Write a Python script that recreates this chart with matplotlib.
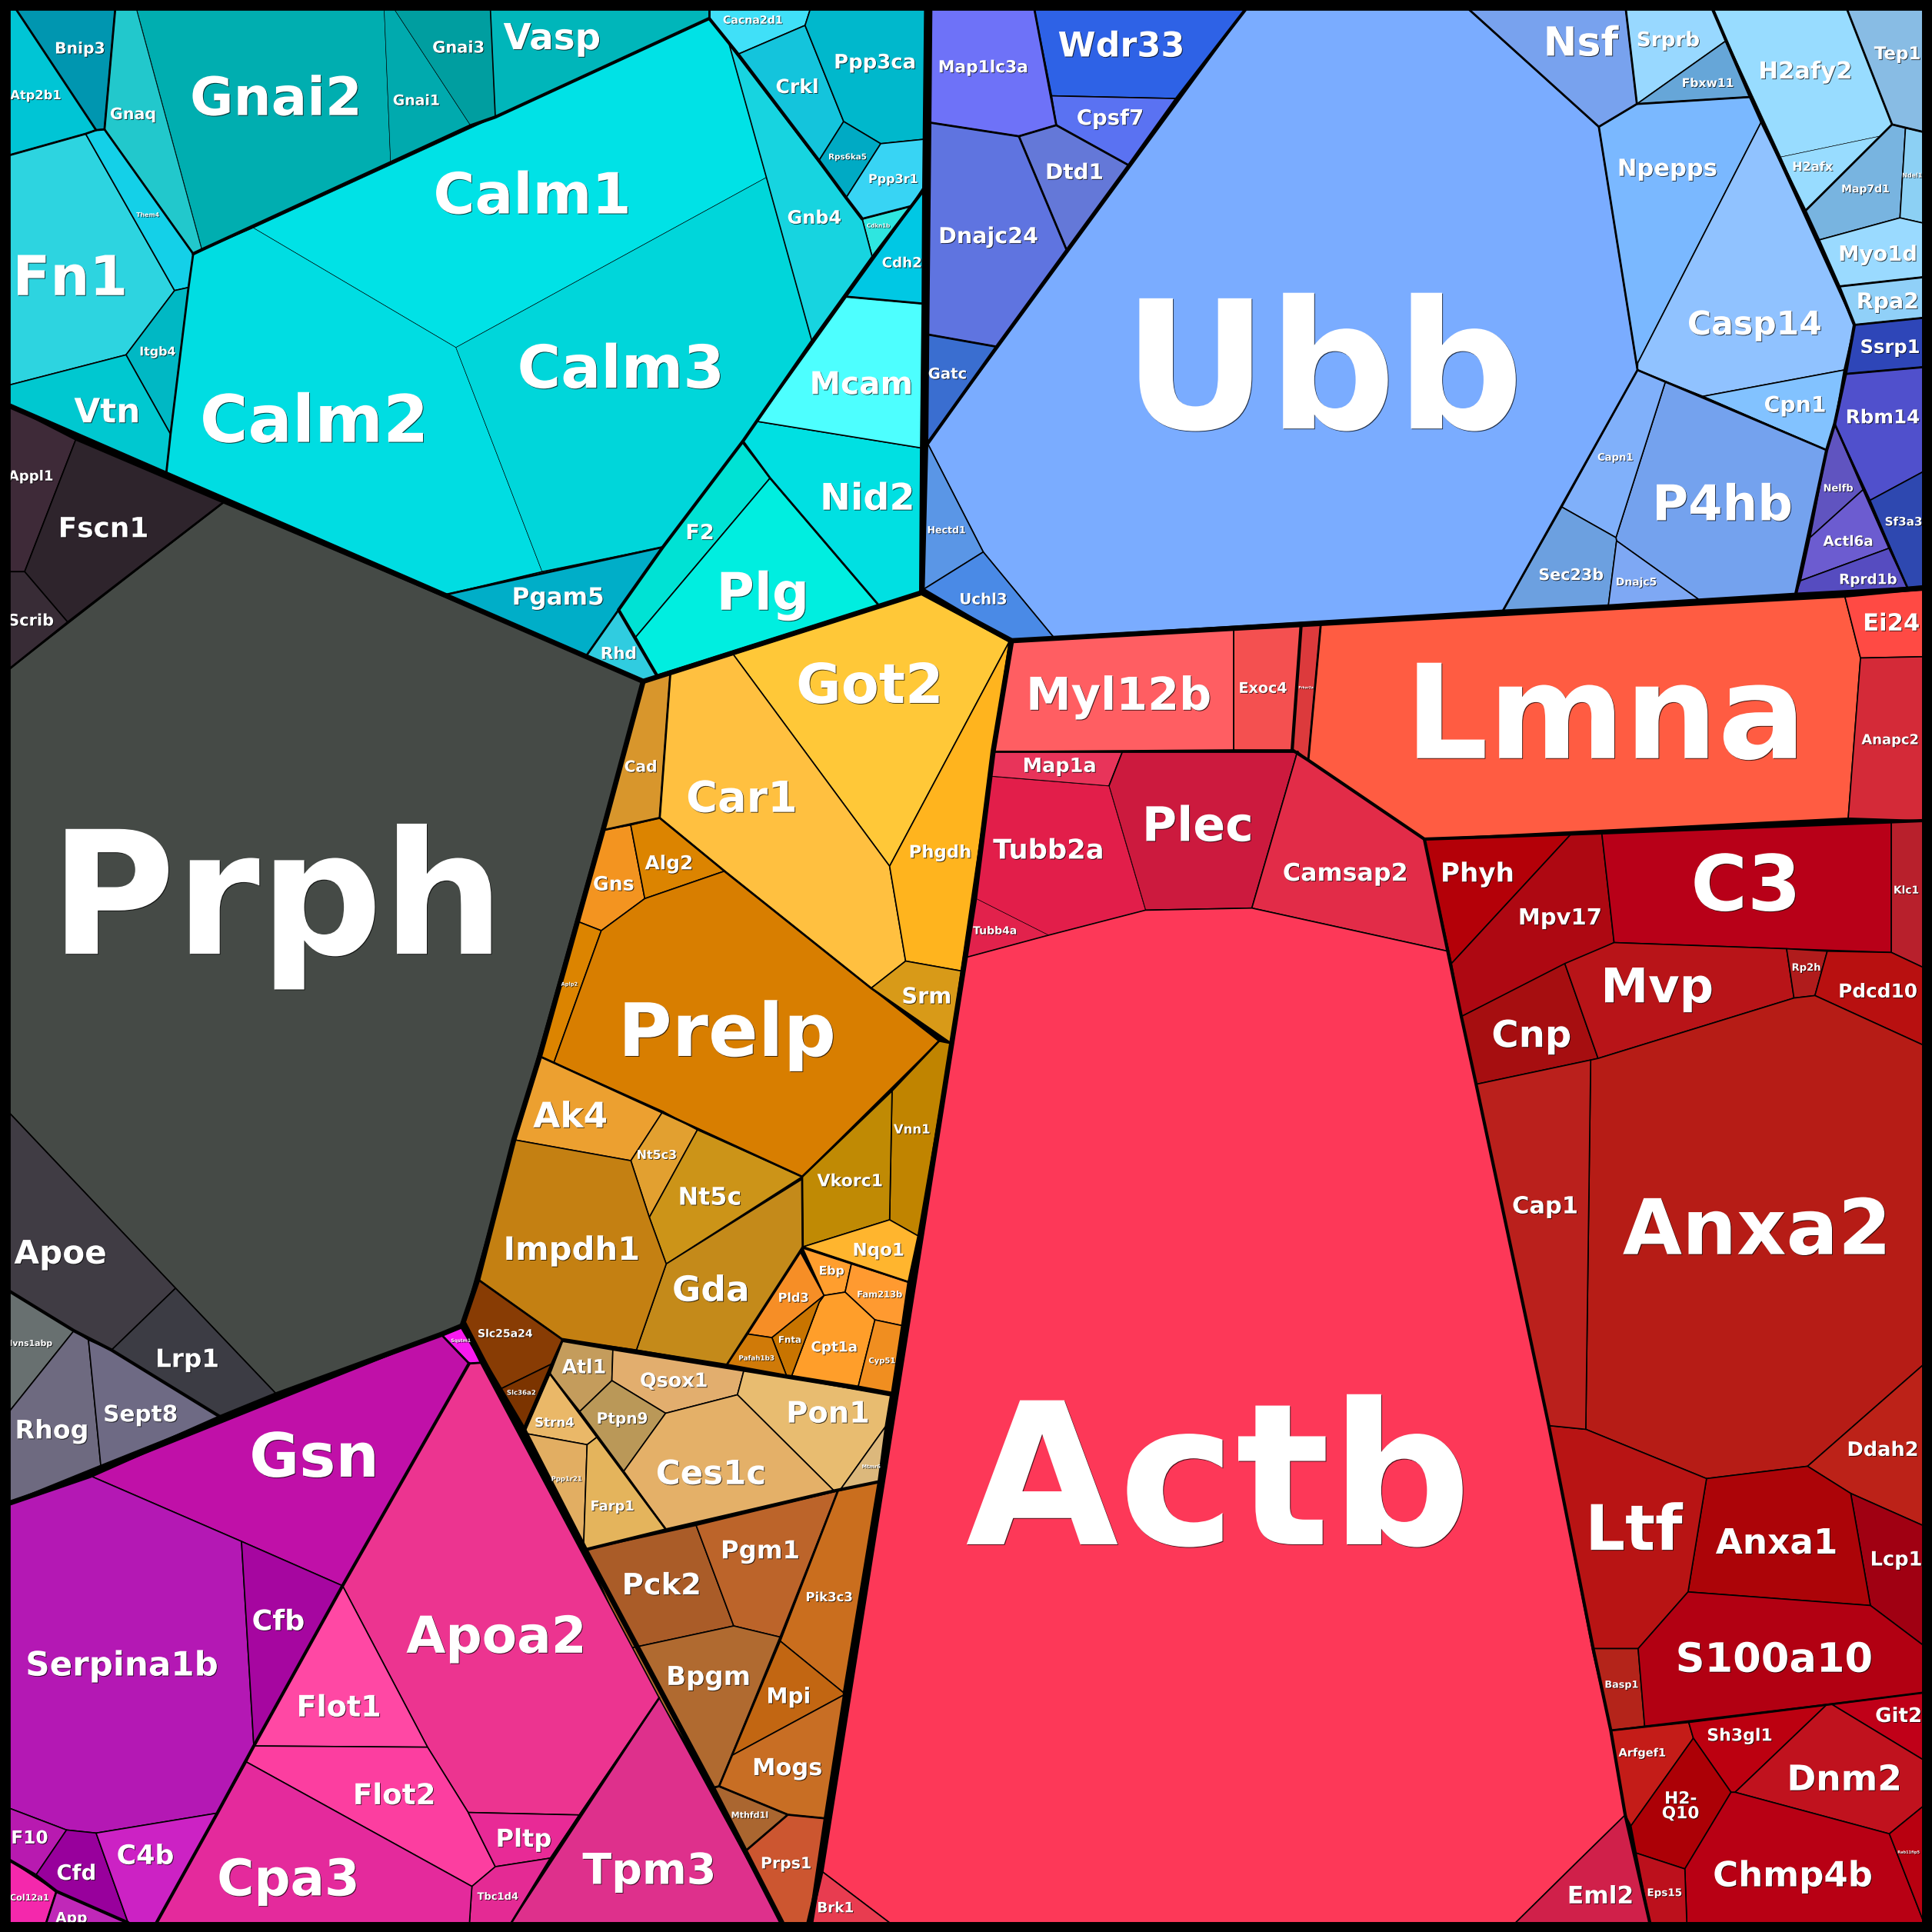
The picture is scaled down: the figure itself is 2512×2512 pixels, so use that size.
import matplotlib
matplotlib.use('Agg')
from matplotlib import pyplot as plt
from matplotlib.patches import Polygon
from matplotlib.font_manager import FontProperties
from matplotlib.textpath import TextPath
import matplotlib.patheffects as pe

# gene groups
dark_genes = ['Appl1', 'Fscn1', 'Scrib', 'Prph', 'Apoe', 'Lrp1', 'Ivns1abp', 'Rhog', 'Sept8']
cyan_genes = ['Bnip3', 'Atp2b1', 'Gnaq', 'Gnai2', 'Gnai1', 'Gnai3', 'Vasp', 'Fn1', 'Them4', 'Itgb4', 'Vtn',
              'Calm1', 'Calm2', 'Calm3', 'Pgam5', 'Rhd', 'F2', 'Plg', 'Nid2', 'Mcam', 'Cdh2', 'Cdkn1b',
              'Gnb4', 'Cacna2d1', 'Crkl', 'Ppp3ca', 'Rps6ka5', 'Ppp3r1']
blue_genes = ['Map1lc3a', 'Wdr33', 'Cpsf7', 'Dtd1', 'Dnajc24', 'Gatc', 'Ubb', 'Hectd1', 'Uchl3', 'Nsf', 'Srprb',
              'Fbxw11', 'Npepps', 'Casp14', 'Cpn1', 'P4hb', 'Capn1', 'Sec23b', 'Dnajc5', 'H2afy2', 'H2afx',
              'Tep1', 'Map7d1', 'Ndel1', 'Myo1d', 'Rpa2', 'Ssrp1', 'Rbm14', 'Sf3a3', 'Nelfb', 'Actl6a', 'Rprd1b']
red_genes = ['Myl12b', 'Exoc4', 'Prkar2a', 'Lmna', 'Ei24', 'Anapc2', 'Map1a', 'Plec', 'Camsap2', 'Tubb2a', 'Tubb4a',
             'Actb', 'Brk1', 'Eml2', 'Phyh', 'Mpv17', 'C3', 'Klc1', 'Cnp', 'Mvp', 'Rp2h', 'Pdcd10', 'Anxa2', 'Ddah2',
             'Lcp1', 'Anxa1', 'Ltf', 'Cap1', 'Basp1', 'S100a10', 'Git2', 'Arfgef1', 'Sh3gl1', 'H2-Q10', 'Dnm2',
             'Chmp4b', 'Rab11fip5', 'Eps15']
orange_genes = ['Got2', 'Cad', 'Car1', 'Phgdh', 'Srm', 'Gns', 'Alg2', 'Aplp2', 'Prelp', 'Vnn1', 'Vkorc1', 'Nqo1',
                'Ak4', 'Nt5c3', 'Nt5c', 'Gda', 'Impdh1', 'Slc25a24', 'Slc36a2', 'Atl1', 'Qsox1', 'Ptpn9', 'Pon1',
                'Mtmr6', 'Ces1c', 'Strn4', 'Ppp1r21', 'Farp1', 'Pld3', 'Ebp', 'Fam213b', 'Cpt1a', 'Fnta', 'Pafah1b3',
                'Cyp51', 'Pck2', 'Pgm1', 'Pik3c3', 'Bpgm', 'Mpi', 'Mogs', 'Mthfd1l', 'Prps1']
magenta_genes = ['Sqstm1', 'Gsn', 'Serpina1b', 'Cfb', 'F10', 'Cfd', 'C4b', 'Col12a1', 'App', 'Apoa2', 'Flot1', 'Flot2',
                 'Pltp', 'Tbc1d4', 'Cpa3', 'Tpm3']
all_genes = dark_genes + cyan_genes + blue_genes + red_genes + orange_genes + magenta_genes

# cell colours
colours = {
    'Appl1': '#3e2a38', 'Fscn1': '#2e242c', 'Scrib': '#382c36', 'Prph': '#454a46', 'Apoe': '#403c44', 'Lrp1': '#3c3c44',
    'Ivns1abp': '#687070', 'Rhog': '#6e6a80', 'Sept8': '#6e6a84',
    'Bnip3': '#0096b0', 'Atp2b1': '#00c5d5', 'Gnaq': '#22c8cc', 'Gnai2': '#00aeb0', 'Gnai1': '#00aaae', 'Gnai3': '#009ea0',
    'Vasp': '#00b6ba', 'Cacna2d1': '#40e0f8', 'Crkl': '#14c4dc', 'Ppp3ca': '#00b8cc', 'Rps6ka5': '#00aac4',
    'Ppp3r1': '#38d4f4', 'Gnb4': '#17d4e0', 'Cdkn1b': '#2ee6e0', 'Cdh2': '#00c8e4', 'Them4': '#14d0e8', 'Fn1': '#2dd4e0',
    'Itgb4': '#00b8c4', 'Vtn': '#00c8d0', 'Calm1': '#00e2e6', 'Calm2': '#00dde2', 'Calm3': '#00d6da', 'Mcam': '#4dffff',
    'Nid2': '#00e0e2', 'F2': '#00e2d4', 'Plg': '#00eee0', 'Pgam5': '#00aec8', 'Rhd': '#30cce0',
    'Map1lc3a': '#6e72f8', 'Wdr33': '#2e62e6', 'Cpsf7': '#5a72f2', 'Dtd1': '#6478d8', 'Dnajc24': '#5f74e0', 'Gatc': '#3a6ed0',
    'Ubb': '#7aacff', 'Hectd1': '#5a96e6', 'Uchl3': '#4a8ae6', 'Nsf': '#78a2ee', 'Srprb': '#98d8ff', 'Fbxw11': '#66a6d8',
    'Npepps': '#7ab8ff', 'Casp14': '#90c2ff', 'Cpn1': '#82c2ff', 'Capn1': '#80b0fa', 'P4hb': '#74a2ee', 'Sec23b': '#6ca0e0',
    'Dnajc5': '#7ea8f4', 'H2afy2': '#98dcff', 'H2afx': '#98dcff', 'Tep1': '#88bce4', 'Map7d1': '#78b4e0', 'Ndel1': '#8cd0f4',
    'Myo1d': '#9adaff', 'Rpa2': '#90d0f8', 'Ssrp1': '#2e46b8', 'Rbm14': '#5050cc', 'Sf3a3': '#2e48b0', 'Nelfb': '#6054c0',
    'Actl6a': '#6c5cd0', 'Rprd1b': '#564cc0',
    'Myl12b': '#ff5e62', 'Exoc4': '#f45050', 'Prkar2a': '#dc3a3c', 'Lmna': '#ff5c42', 'Ei24': '#ff4a44', 'Anapc2': '#d42a38',
    'Map1a': '#e8345a', 'Plec': '#cc1a3e', 'Tubb2a': '#e21e4a', 'Tubb4a': '#e2224c', 'Camsap2': '#e22c48', 'Actb': '#fd3858',
    'Phyh': '#b40008', 'Mpv17': '#ae0812', 'C3': '#b80018', 'Klc1': '#b8202c', 'Cnp': '#a60e10', 'Mvp': '#b81418',
    'Rp2h': '#b01c1c', 'Pdcd10': '#b81010', 'Anxa2': '#b61c16', 'Cap1': '#ba201c', 'Ddah2': '#bc2218', 'Ltf': '#b81414',
    'Anxa1': '#ac0408', 'Lcp1': '#a00012', 'S100a10': '#b20012', 'Basp1': '#b4241a', 'Git2': '#c00018', 'Arfgef1': '#c41c18',
    'Sh3gl1': '#bc0010', 'H2-Q10': '#ac0006', 'Dnm2': '#c0121e', 'Chmp4b': '#b80014', 'Eps15': '#bc101c',
    'Rab11fip5': '#b80010', 'Eml2': '#d0204a', 'Brk1': '#e83c50',
    'Got2': '#ffc838', 'Cad': '#d8962c', 'Car1': '#ffc040', 'Phgdh': '#ffb41e', 'Gns': '#f39420', 'Alg2': '#dc8400',
    'Aplp2': '#dc8400', 'Prelp': '#d87e00', 'Srm': '#d89a18', 'Vnn1': '#c08400', 'Vkorc1': '#c08a04', 'Nqo1': '#ffb52e',
    'Ak4': '#eca030', 'Nt5c3': '#e2a030', 'Nt5c': '#cc9418', 'Impdh1': '#c48012', 'Gda': '#c48a1a', 'Ebp': '#ff9e2e',
    'Fam213b': '#ff9a30', 'Pld3': '#f68e26', 'Fnta': '#c87400', 'Cpt1a': '#ff9e2a', 'Cyp51': '#f08e20', 'Pafah1b3': '#d07a08',
    'Slc25a24': '#883c04', 'Slc36a2': '#7c3400', 'Sqstm1': '#f81af0', 'Atl1': '#c49c5c', 'Qsox1': '#e2ae6e', 'Ptpn9': '#ba9858',
    'Pon1': '#e8bc70', 'Mtmr6': '#dcb87c', 'Ces1c': '#e4b068', 'Strn4': '#eab868', 'Ppp1r21': '#e2ae62', 'Farp1': '#e4b45c',
    'Pck2': '#aa5c28', 'Pgm1': '#bc642a', 'Pik3c3': '#ca6e1e', 'Bpgm': '#b06a30', 'Mpi': '#c26612', 'Mogs': '#c86e24',
    'Mthfd1l': '#aa6630', 'Prps1': '#cc5630',
    'Gsn': '#c010a8', 'Serpina1b': '#b418b4', 'Cfb': '#a606a0', 'Flot1': '#ff48a4', 'Apoa2': '#ec3490', 'Flot2': '#fc3ea0',
    'Pltp': '#e82a96', 'Cpa3': '#e42a9c', 'Tpm3': '#de308c', 'Tbc1d4': '#e42a94', 'F10': '#b81ab0', 'Cfd': '#98009c',
    'C4b': '#cc22c4', 'Col12a1': '#f428ac', 'App': '#c028b8',
}

# cell outlines (a voronoi treemap has no layout in matplotlib)
L, R = 7.5, 1560.5
outlines = {
    'Bnip3': [(13, L), (93.5, L), (84.8, 105), (78, 105.6)],
    'Atp2b1': [(L, L), (13, L), (78, 105.6), (69.5, 108.6), (L, 126)],
    'Gnaq': [(93.5, L), (111, L), (164, 202.6), (156.8, 206), (84.8, 105)],
    'Gnai2': [(111, L), (311.8, L), (317, 132), (164, 202.6)],
    'Gnai1': [(311.8, L), (320, L), (382, 102), (317, 132)],
    'Gnai3': [(320, L), (398, L), (402, 95), (382, 102)],
    'Vasp': [(398, L), (575.6, L), (575.6, 15), (402, 95)],
    'Fn1': [(L, 126), (69.5, 108.6), (141.7, 235.8), (102.3, 288), (L, 312.5)],
    'Them4': [(69.5, 108.6), (78, 105.6), (84.8, 105), (156.8, 206), (153, 233.3), (141.7, 235.8)],
    'Itgb4': [(141.7, 235.8), (153, 233.3), (138.4, 352.4), (102.3, 288)],
    'Vtn': [(L, 312.5), (102.3, 288), (138.4, 352.4), (135, 383.7), (L, 329.3)],
    'Calm1': [(205.7, 185), (402, 95), (575.6, 15), (591.9, 36.4), (622, 144), (370, 282)],
    'Calm3': [(370, 282), (622, 144), (659, 277), (603, 358), (538, 444), (440, 464)],
    'Calm2': [(156.8, 206), (205.7, 185), (370, 282), (440, 464), (360, 483), (135, 383.7), (138.4, 352.4), (153, 233.3)],
    'Pgam5': [(360, 483), (440, 464), (538, 444), (502, 495), (476, 532)],
    'Rhd': [(476, 532), (502, 495), (533, 548), (521, 553)],
    'F2': [(603, 358), (538, 444), (502, 495), (516, 517), (625, 388)],
    'Plg': [(516, 517), (625, 388), (713, 491), (533, 548)],
    'Nid2': [(602, 358.6), (614.5, 342), (748.7, 363.7), (748, 481), (713, 491), (625, 388)],
    'Mcam': [(614.5, 342), (687, 240.8), (750, 246.5), (748.7, 363.7)],
    'Cdh2': [(750.5, 153), (750, 246.5), (687, 240.8)],
    'Cdkn1b': [(699.7, 177.6), (739.4, 167.3), (708, 209)],
    'Gnb4': [(591.9, 36.4), (699.7, 177.6), (708, 209), (659, 277), (622, 144)],
    'Cacna2d1': [(575.6, L), (657.6, L), (653.4, 20.6), (599, 44), (575.6, 15)],
    'Crkl': [(599, 44), (653.4, 20.6), (684.7, 98.6), (664.6, 130.4)],
    'Ppp3ca': [(657.6, L), (752, L), (751.2, 112.9), (714.8, 116.6), (684.7, 98.6), (653.4, 20.6)],
    'Rps6ka5': [(684.7, 98.6), (714.8, 116.6), (686.7, 160.5), (664.6, 130.4)],
    'Ppp3r1': [(714.8, 116.6), (751.2, 112.9), (750.4, 150.5), (739.4, 167.3), (699.7, 177.6), (686.7, 160.5)],
    'Map1lc3a': [(756.2, L), (839.5, L), (857.3, 101.6), (826.9, 110.6), (755.4, 99.6)],
    'Wdr33': [(839.5, L), (1011, L), (955, 80), (853.5, 77.8)],
    'Cpsf7': [(853.5, 77.8), (955, 80), (916.2, 134.2), (857.3, 101.6)],
    'Dtd1': [(826.9, 110.6), (857.3, 101.6), (916.2, 134.2), (865.8, 203.2)],
    'Dnajc24': [(755.4, 99.6), (826.9, 110.6), (865.8, 203.2), (808.9, 281.4), (753.7, 271.6)],
    'Gatc': [(753.7, 271.6), (808.9, 281.4), (752.9, 358.7)],
    'Ubb': [(752.9, 360), (1011, L), (1192, L), (1297.6, 102.9), (1329, 300.3), (1220, 495.2), (855, 517), (798, 448)],
    'Hectd1': [(752.9, 360), (798, 448), (750, 478)],
    'Uchl3': [(750, 478), (798, 448), (855, 517), (821, 520)],
    'Nsf': [(1192, L), (1319.5, L), (1328.5, 84.4), (1297.6, 102.9)],
    'Srprb': [(1319.5, L), (1390, L), (1400.4, 33.4), (1328.5, 84.4)],
    'Fbxw11': [(1328.5, 84.4), (1400.4, 33.4), (1420.6, 78.7)],
    'Npepps': [(1297.6, 102.9), (1328.5, 84.4), (1420.6, 78.7), (1429.6, 98.7), (1329.2, 294.6), (1329, 300.3)],
    'Casp14': [(1329.2, 294.6), (1429.6, 98.7), (1505, 263.7), (1496.6, 300.3), (1382, 321.7), (1329, 300.3)],
    'Cpn1': [(1382, 321.7), (1496.6, 300.3), (1489, 344), (1482.5, 365.3)],
    'P4hb': [(1351.6, 309.9), (1382, 321.7), (1482.5, 365.3), (1457.6, 481.5), (1378.4, 486.3), (1312, 438.9), (1311.5, 436.3)],
    'Capn1': [(1329, 300.3), (1351.6, 309.9), (1311.5, 436.3), (1267.6, 411.5)],
    'Sec23b': [(1267.6, 411.5), (1311.5, 436.3), (1312, 438.9), (1305.4, 491), (1220, 495.2)],
    'Dnajc5': [(1312, 438.9), (1378.4, 486.3), (1305.4, 491)],
    'H2afy2': [(1390, L), (1499, L), (1535.6, 101), (1525.8, 110.5), (1445.4, 127.4)],
    'H2afx': [(1445.4, 127.4), (1525.8, 110.5), (1465, 171.3)],
    'Tep1': [(1499, L), (R, L), (R, 107), (1535.6, 101)],
    'Map7d1': [(1535.6, 101), (1546.5, 103.8), (1542, 176.8), (1475.9, 194.9), (1465, 171.3)],
    'Ndel1': [(1546.5, 103.8), (R, 107), (R, 181), (1542, 176.8)],
    'Myo1d': [(1475.9, 194.9), (1542, 176.8), (R, 181), (R, 225), (1492.5, 232.5)],
    'Rpa2': [(1492.5, 232.5), (R, 225), (R, 258), (1505, 263.7)],
    'Ssrp1': [(1505, 263.7), (R, 258), (R, 298), (1497.8, 303.5)],
    'Rbm14': [(1497.8, 303.5), (R, 298), (R, 383), (1517.8, 406), (1489, 344)],
    'Sf3a3': [(1517.8, 406), (R, 383), (R, 476), (1548, 476.8)],
    'Nelfb': [(1489, 344), (1512, 397.5), (1469, 436.3), (1482.5, 365.3)],
    'Actl6a': [(1469, 436.3), (1512, 397.5), (1533, 445), (1461.3, 471.3)],
    'Rprd1b': [(1461.3, 471.3), (1533, 445), (1548, 476.8), (1457.6, 481.5)],
    'Myl12b': [(820, 520), (1001.3, 510), (1001.3, 608.6), (806, 610)],
    'Exoc4': [(1001.3, 510), (1056, 507), (1048.7, 608.6), (1001.3, 608.6)],
    'Prkar2a': [(1056, 507), (1072, 506), (1061.8, 617), (1048.7, 608.6)],
    'Lmna': [(1072, 506), (1497, 483), (1510, 534), (1500, 664), (1156, 681), (1061.8, 617)],
    'Ei24': [(1497, 483), (R, 479), (R, 533), (1510, 534)],
    'Anapc2': [(1510, 534), (R, 533), (R, 666), (1500, 664)],
    'Map1a': [(806, 610), (911, 610), (900, 638), (802, 630)],
    'Plec': [(911, 610), (1053, 610), (1016, 737), (929.6, 738.7), (900, 638)],
    'Camsap2': [(1053, 610), (1061.8, 617), (1156, 681), (1175, 772), (1016, 737)],
    'Tubb2a': [(802, 630), (900, 638), (929.6, 738.7), (851, 759), (791, 728.7)],
    'Tubb4a': [(791, 728.7), (851, 759), (783.4, 777.2)],
    'Actb': [(783.4, 777.2), (851, 759), (929.6, 738.7), (1016, 737), (1175, 772), (1186, 825), (1198, 880), (1257, 1157),
             (1293, 1342), (1307.3, 1404.4), (1319, 1473), (1279.6, 1511.6), (1230, R), (722, R), (666.4, 1518.3)],
    'Brk1': [(666.4, 1518.3), (722, R), (659.6, R)],
    'Eml2': [(1319, 1473), (1339, R), (1230, R), (1279.6, 1511.6)],
    'Phyh': [(1156, 681), (1275, 677), (1178, 782)],
    'Mpv17': [(1275, 677), (1300, 676), (1310, 765), (1186, 825), (1178, 782)],
    'C3': [(1300, 676), (1535, 667), (1535, 773), (1450, 770), (1310, 765)],
    'Klc1': [(1535, 667), (R, 666), (R, 785), (1535, 773)],
    'Cnp': [(1186, 825), (1270, 782), (1297, 859), (1291, 860.3), (1198, 880)],
    'Mvp': [(1270, 782), (1310, 765), (1450, 770), (1456, 810), (1297, 859)],
    'Rp2h': [(1450, 770), (1483, 772), (1473, 808), (1456, 810)],
    'Pdcd10': [(1483, 772), (1535, 773), (R, 785), (R, 848), (1473, 808)],
    'Anxa2': [(1297, 859), (1456, 810), (1473, 808), (R, 848), (R, 1108), (1467, 1190), (1385, 1200), (1287, 1160), (1291, 860.3)],
    'Ddah2': [(1467, 1190), (R, 1108), (R, 1238), (1502, 1212)],
    'Lcp1': [(1502, 1212), (R, 1238), (R, 1335), (1518, 1303)],
    'Anxa1': [(1385, 1200), (1467, 1190), (1502, 1212), (1518, 1303), (1370, 1292)],
    'Ltf': [(1257, 1157), (1287, 1160), (1385, 1200), (1370, 1292), (1329.5, 1338), (1293, 1338)],
    'Cap1': [(1198, 880), (1291, 860.3), (1287, 1160), (1257, 1157)],
    'Basp1': [(1293, 1338), (1329.5, 1338), (1334.8, 1400.9), (1307.3, 1404.4)],
    'S100a10': [(1329.5, 1338), (1370, 1292), (1518, 1303), (R, 1335), (R, 1374), (1334.8, 1400.9)],
    'Git2': [(1486.6, 1383.2), (R, 1373.8), (R, 1428)],
    'Arfgef1': [(1307.3, 1404.4), (1370.5, 1397.6), (1374.3, 1410.7), (1323.7, 1481.8), (1319, 1473)],
    'Sh3gl1': [(1370.5, 1397.6), (1482.5, 1383.6), (1408.2, 1454.6), (1404.9, 1454.6), (1374.3, 1410.7)],
    'H2-Q10': [(1374.3, 1410.7), (1404.9, 1454.6), (1367.4, 1516.8), (1327.9, 1503.9), (1323.7, 1481.8)],
    'Dnm2': [(1482.5, 1383.6), (1486.6, 1383.2), (R, 1428), (R, 1466.2), (1533.4, 1488.3), (1408.2, 1454.6)],
    'Chmp4b': [(1404.9, 1454.6), (1408.2, 1454.6), (1533.4, 1488.3), (R, 1558), (R, R), (1369, R), (1367.4, 1516.8)],
    'Rab11fip5': [(1533.4, 1488.3), (R, 1466.2), (R, 1558)],
    'Eps15': [(1327.9, 1503.9), (1367.4, 1516.8), (1369, R), (1339, R)],
    'Got2': [(595, 531), (748, 482), (819, 521), (722, 703)],
    'Cad': [(522, 553), (544, 547), (535.4, 663.8), (489.4, 673.8)],
    'Car1': [(544, 547), (595, 531), (722, 703), (735, 780), (707, 802), (588, 707), (535.4, 663.8)],
    'Phgdh': [(722, 703), (819, 521), (780, 788), (735, 780)],
    'Srm': [(735, 780), (780, 788), (772, 847), (707, 802)],
    'Gns': [(489.4, 673.8), (511.9, 669.6), (523.3, 729.3), (488, 755.3), (469.2, 748)],
    'Alg2': [(511.9, 669.6), (535.4, 663.8), (588, 707), (523.3, 729.3)],
    'Aplp2': [(469.2, 748), (488, 755.3), (449.5, 862.5), (438, 857.3)],
    'Prelp': [(523.3, 729.3), (588, 707), (707, 802), (762, 845), (651, 955), (449.5, 862.5), (488, 755.3)],
    'Vnn1': [(762, 845), (772, 847), (745, 1003), (722, 990), (724, 885)],
    'Vkorc1': [(724, 885), (722, 990), (651.5, 1012), (651, 955)],
    'Nqo1': [(651.5, 1012), (722, 990), (745, 1003), (737, 1040.4)],
    'Ak4': [(438, 857.3), (449.5, 862.5), (538, 902), (512, 942), (417, 925)],
    'Nt5c3': [(538, 902), (566, 917), (527, 988), (512, 942)],
    'Nt5c': [(566, 917), (651, 955), (540.7, 1025.8), (527, 988)],
    'Gda': [(540.7, 1025.8), (651, 957), (651.5, 1012), (649.7, 1016.5), (589.6, 1108), (516.5, 1095.6)],
    'Impdh1': [(417, 925), (512, 942), (527, 988), (540.7, 1025.8), (516.5, 1095.6), (456.6, 1087.2), (387.8, 1038.3)],
    'Slc25a24': [(387.8, 1038.3), (456.6, 1087.2), (447.7, 1107), (406, 1127.4), (377.6, 1072.7)],
    'Slc36a2': [(406, 1127.4), (447.7, 1107), (424.8, 1160)],
    'Sqstm1': [(375, 1076), (389.9, 1106), (380.7, 1106.6), (358, 1083)],
    'Atl1': [(456.6, 1088.7), (497.4, 1095.6), (496.6, 1120.5), (470.6, 1145.5), (446.4, 1115)],
    'Qsox1': [(497.4, 1095.6), (603.6, 1112.8), (598.5, 1132), (540.2, 1147), (496.6, 1120.5)],
    'Ptpn9': [(496.6, 1120.5), (540.2, 1147), (506.3, 1194), (470.6, 1145.5)],
    'Pon1': [(603.6, 1112.8), (722.8, 1132), (718.5, 1158), (682, 1209), (677, 1210), (598.5, 1132)],
    'Mtmr6': [(718.5, 1158), (712.7, 1202.7), (682, 1209)],
    'Ces1c': [(540.2, 1147), (598.5, 1132), (677, 1210), (540.7, 1241.6), (506.3, 1194)],
    'Strn4': [(446.4, 1115), (484.6, 1166.3), (476.5, 1172.5), (425.5, 1163.2)],
    'Ppp1r21': [(425.5, 1163.2), (476.5, 1172.5), (473.7, 1253.7)],
    'Farp1': [(476.5, 1172.5), (484.6, 1166.3), (540.7, 1241.6), (475, 1257.8), (473.7, 1253.7)],
    'Pld3': [(649.7, 1016.5), (668.8, 1051.4), (626.5, 1085.6), (606.9, 1082.7)],
    'Ebp': [(651.5, 1013), (691, 1025.8), (685.9, 1048.7), (668.8, 1051.4)],
    'Fam213b': [(691, 1025.8), (736.9, 1040.4), (731.8, 1075.8), (710.1, 1071.2), (685.9, 1048.7)],
    'Cpt1a': [(668.8, 1051.4), (685.9, 1048.7), (710.1, 1071.2), (696.6, 1125), (642.6, 1116.4), (664.8, 1057)],
    'Fnta': [(668.8, 1051.4), (664.8, 1057), (642.6, 1116.4), (638.3, 1116.4), (626.5, 1085.6)],
    'Pafah1b3': [(606.9, 1082.7), (626.5, 1085.6), (638.3, 1116.4), (589.6, 1108)],
    'Cyp51': [(710.1, 1071.2), (731.8, 1075.8), (723.6, 1130), (696.6, 1125)],
    'Pck2': [(475, 1257.8), (565, 1238), (595.5, 1319.6), (510, 1338)],
    'Pgm1': [(565, 1238), (680, 1210), (633, 1328.6), (595.5, 1319.6)],
    'Pik3c3': [(680, 1210), (712.7, 1202.7), (684.5, 1373.7), (633, 1331.7)],
    'Bpgm': [(510, 1338), (595.5, 1319.6), (633, 1328.6), (583.6, 1449.7), (578.4, 1451)],
    'Mpi': [(633, 1331.7), (684.5, 1373.7), (684.5, 1375.8), (594, 1424.7)],
    'Mogs': [(594, 1424.7), (684.5, 1375.8), (669, 1475.7), (639.4, 1472.8), (583.6, 1449.7)],
    'Mthfd1l': [(578.4, 1451), (583.6, 1449.7), (639.4, 1472.8), (605.5, 1501.9)],
    'Prps1': [(605.5, 1501.9), (639.4, 1472.8), (669, 1475.7), (656.5, R), (634.6, R)],
    'Gsn': [(72.8, 1197.6), (358, 1083), (380.7, 1106.6), (278, 1287), (196, 1251)],
    'Serpina1b': [(L, 1220), (72.8, 1197.6), (196, 1251), (206, 1417), (176.4, 1471.5), (78, 1487.7), (54, 1485.2), (L, 1467.5)],
    'Cfb': [(196, 1251), (278, 1287), (206, 1417)],
    'F10': [(L, 1467.5), (54, 1485.2), (29, 1522), (L, 1509.6)],
    'Cfd': [(54, 1485.2), (78, 1487.7), (104, R), (45.8, 1535), (29, 1522)],
    'C4b': [(78, 1487.7), (176.4, 1471.5), (127, R), (104, R)],
    'Col12a1': [(L, 1509.6), (45.8, 1535), (37.5, R), (L, R)],
    'App': [(45.8, 1535), (104, R), (37.5, R)],
    'Apoa2': [(380.7, 1106.6), (389.9, 1106), (535, 1378), (470, 1473), (380, 1471), (347, 1418), (278, 1287)],
    'Flot1': [(278, 1287), (347, 1418), (206, 1417)],
    'Flot2': [(206, 1417), (347, 1418), (380, 1471), (402, 1515), (383, 1531), (200, 1430)],
    'Pltp': [(380, 1471), (470, 1473), (447, 1508), (402, 1515)],
    'Tbc1d4': [(383, 1531), (402, 1515), (447, 1508), (415, R), (381, R)],
    'Cpa3': [(200, 1430), (383, 1531), (381, R), (127, R)],
    'Tpm3': [(535, 1378), (634.6, R), (415, R)],
    'Appl1': [(L, 329.3), (61.4, 357), (20, 464), (L, 464)],
    'Fscn1': [(61.4, 357), (181, 408), (55, 505), (20, 464)],
    'Scrib': [(L, 464), (20, 464), (55, 505), (L, 543)],
    'Prph': [(L, 543), (181, 408), (522, 553), (375, 1076), (224.7, 1131.8), (142.5, 1045.5), (7.7, 903.3)],
    'Apoe': [(7.7, 903.3), (142.5, 1045.5), (90.5, 1095.7), (60, 1080), (7.7, 1047.8)],
    'Lrp1': [(142.5, 1045.5), (224.7, 1131.8), (179.4, 1150.3), (90.5, 1095.7)],
    'Ivns1abp': [(7.7, 1047.8), (60, 1080), (7.7, 1145.4)],
    'Rhog': [(7.7, 1145.4), (60, 1080), (71.8, 1087.5), (81.8, 1189.3), (7.7, 1219.4)],
    'Sept8': [(71.8, 1087.5), (90.5, 1095.7), (179.4, 1150.3), (81.8, 1189.3)],
}

# label centre x, centre y, text width
labels = {
    'Bnip3': (65, 39, 40), 'Atp2b1': (29, 77, 42), 'Gnaq': (108, 92, 37), 'Gnai2': (224, 78, 138), 'Gnai1': (338, 81, 38),
    'Gnai3': (372, 38, 42), 'Vasp': (448, 30, 80), 'Cacna2d1': (611, 16, 49), 'Crkl': (647, 70, 34), 'Ppp3ca': (710, 50, 66),
    'Rps6ka5': (688, 127, 31), 'Ppp3r1': (725, 145, 40), 'Gnb4': (661, 176, 44), 'Cdkn1b': (713, 183, 19), 'Cdh2': (732, 213, 32),
    'Them4': (120, 174, 19), 'Fn1': (57, 224, 89), 'Itgb4': (128, 285, 29), 'Vtn': (87, 333, 53), 'Calm1': (432, 157, 160),
    'Calm2': (255, 340, 184), 'Calm3': (504, 298, 167), 'Mcam': (699, 311, 82), 'Nid2': (704, 403, 74), 'F2': (568, 432, 21),
    'Plg': (619, 480, 70), 'Pgam5': (453, 484, 74), 'Rhd': (502, 530, 28),
    'Map1lc3a': (798, 54, 73), 'Wdr33': (910, 36, 103), 'Cpsf7': (901, 95, 54), 'Dtd1': (872, 139, 46), 'Dnajc24': (802, 191, 81),
    'Gatc': (769, 303, 31), 'Ubb': (1074, 297, 315), 'Hectd1': (768, 430, 31), 'Uchl3': (798, 486, 38), 'Nsf': (1283, 34, 60),
    'Srprb': (1354, 32, 51), 'Fbxw11': (1386, 67, 42), 'Npepps': (1353, 136, 81), 'Casp14': (1424, 262, 110), 'Cpn1': (1457, 328, 50),
    'Capn1': (1311, 371, 29), 'P4hb': (1398, 408, 112), 'Sec23b': (1275, 466, 53), 'Dnajc5': (1328, 472, 33), 'H2afy2': (1465, 57, 75),
    'H2afx': (1471, 135, 33), 'Tep1': (1540, 43, 38), 'Map7d1': (1514, 153, 39), 'Ndel1': (1552, 142, 16), 'Myo1d': (1524, 206, 63),
    'Rpa2': (1532, 244, 49), 'Ssrp1': (1534, 281, 48), 'Rbm14': (1528, 338, 60), 'Nelfb': (1492, 396, 24), 'Actl6a': (1500, 439, 41),
    'Sf3a3': (1545, 423, 30), 'Rprd1b': (1516, 470, 47),
    'Myl12b': (908, 563, 150), 'Exoc4': (1025, 558, 39), 'Prkar2a': (1060, 558, 12), 'Lmna': (1303, 578, 317), 'Ei24': (1535, 505, 45),
    'Anapc2': (1534, 600, 47), 'Map1a': (860, 621, 59), 'Plec': (972, 669, 87), 'Tubb2a': (851, 689, 91), 'Tubb4a': (807.6, 755, 36),
    'Camsap2': (1092, 708, 102), 'Actb': (989, 1197, 415), 'Phyh': (1199, 708, 58), 'Mpv17': (1266, 744, 67), 'C3': (1417, 717, 84),
    'Klc1': (1547, 722, 20), 'Mvp': (1345, 800, 89), 'Rp2h': (1466, 785, 23), 'Pdcd10': (1524, 804, 64), 'Cnp': (1243, 839, 64),
    'Cap1': (1254, 978, 53), 'Anxa2': (1426, 996, 219), 'Ddah2': (1528, 1176, 57), 'Ltf': (1326, 1240, 77), 'Anxa1': (1442, 1251, 100),
    'Lcp1': (1539, 1265, 41), 'S100a10': (1440, 1345, 161), 'Basp1': (1316, 1367, 27), 'Git2': (1541, 1392, 37), 'Arfgef1': (1333, 1422, 39),
    'Sh3gl1': (1412, 1408, 53), 'H2-Q10': (1364, 1465, 30), 'Dnm2': (1497, 1443, 91), 'Chmp4b': (1455, 1521, 131), 'Eps15': (1351, 1536, 28),
    'Rab11fip5': (1549, 1503, 18), 'Eml2': (1299, 1538, 52), 'Brk1': (678, 1548, 29),
    'Got2': (706, 555, 117), 'Cad': (520, 622, 26), 'Car1': (602, 647, 89), 'Phgdh': (763, 691, 50), 'Gns': (498, 717, 33), 'Alg2': (543, 700, 39),
    'Aplp2': (462, 798.5, 13.5), 'Prelp': (590, 836, 174), 'Srm': (752, 808, 39), 'Vnn1': (740, 916, 30), 'Vkorc1': (690, 958, 54),
    'Nqo1': (713, 1014, 41), 'Ak4': (463, 905, 61), 'Nt5c3': (533, 937, 32), 'Nt5c': (576, 971, 50), 'Impdh1': (464, 1013, 110),
    'Gda': (577, 1046, 61), 'Ebp': (675, 1031, 20), 'Fam213b': (714, 1050.5, 37), 'Pld3': (644, 1053, 24), 'Fnta': (641, 1087, 18),
    'Cpt1a': (677, 1093, 37.5), 'Cyp51': (716, 1104, 21.7), 'Pafah1b3': (614, 1102, 29), 'Slc25a24': (410, 1082, 45), 'Slc36a2': (423, 1130, 23.5),
    'Sqstm1': (374, 1088, 16), 'Atl1': (474, 1109, 36), 'Qsox1': (547, 1120, 55), 'Ptpn9': (505, 1151, 41), 'Pon1': (672, 1146.5, 66),
    'Mtmr6': (707, 1190, 15), 'Ces1c': (577, 1195, 89), 'Strn4': (450, 1154, 32), 'Ppp1r21': (460, 1200, 25), 'Farp1': (497, 1222, 35),
    'Pck2': (537, 1286, 62), 'Pgm1': (617, 1258, 63), 'Pik3c3': (673, 1296, 37.7), 'Bpgm': (575, 1360, 67), 'Mpi': (640, 1376, 34),
    'Mogs': (639, 1434, 56), 'Mthfd1l': (608.5, 1473, 30), 'Prps1': (638, 1512, 40.5),
    'Gsn': (255, 1181, 102), 'Serpina1b': (99, 1350, 158), 'Cfb': (226, 1315, 42), 'Flot1': (275, 1385, 67), 'Apoa2': (403, 1327, 147),
    'Flot2': (320, 1456, 65), 'Pltp': (425, 1492, 44), 'Cpa3': (234, 1524, 114), 'Tpm3': (527, 1517, 109), 'Tbc1d4': (404, 1539, 34),
    'F10': (24, 1491, 29), 'Cfd': (62, 1520, 31), 'C4b': (118, 1505, 46), 'Col12a1': (24, 1540, 32), 'App': (58, 1556, 26),
    'Appl1': (25, 386, 37), 'Fscn1': (84, 428, 72), 'Scrib': (25, 503, 37), 'Prph': (225, 725, 356), 'Apoe': (49, 1016, 76),
    'Lrp1': (152, 1102, 50), 'Ivns1abp': (25, 1090, 35), 'Rhog': (42, 1160, 58), 'Sept8': (114, 1147, 60),
}

# cells split by the faintest lines
hair_cells = ['Calm1', 'Calm2', 'Calm3', 'Gnai1', 'Gnai2', 'Gnai3', 'H2afy2', 'H2afx', 'Tubb2a', 'Tubb4a']

# borders between groups, heaviest first
heavy_lines = [
    [(L, 329.3), (522, 553), (748, 481), (821, 520), (1072, 506), (1497, 483), (R, 477)],
    [(752, L), (750.5, 153), (750, 246.5), (748.7, 363.7), (748, 481)],
    [(522, 553), (489.4, 673.8), (438, 857.3), (417, 925), (387.8, 1038.3), (375, 1076)],
    [(L, 1220), (72.8, 1197.6), (179.4, 1150.3), (224.7, 1131.8), (358, 1083), (375, 1076)],
    [(375, 1076), (424.8, 1160), (475, 1257.8), (578.4, 1451), (634.6, R)],
    [(821, 520), (806, 610), (791, 728.7), (783.4, 777.2), (666.4, 1518.3), (656.5, R)],
]
second_lines = [
    [(1390, L), (1420.6, 78.7), (1429.6, 98.7), (1465, 171.3), (1475.9, 194.9), (1492.5, 232.5), (1505, 263.7),
     (1497.8, 303.5), (1489, 344), (1482.5, 365.3), (1457.6, 481.5)],
    [(750.5, 153), (708, 209), (659, 277), (603, 358), (538, 444), (502, 495), (533, 548)],
    [(1156, 681), (1175, 772), (1186, 825), (1198, 880), (1257, 1157), (1293, 1338), (1307.3, 1404.4), (1319, 1473), (1339, R)],
    [(1056, 507), (1048.7, 608.6), (1061.8, 617), (1156, 681), (1300, 676), (1535, 667), (R, 666)],
    [(456.6, 1087.2), (589.6, 1108), (722.8, 1132)],
    [(475, 1257.8), (540.7, 1241.6), (677, 1210), (712.7, 1202.7)],
    [(380.7, 1106.6), (278, 1287), (206, 1417), (176.4, 1471.5), (127, R)],
    [(L, 1047.8), (60, 1080), (90.5, 1095.7), (179.4, 1150.3)],
    [(752.9, 360), (808.9, 281.4), (865.8, 203.2), (916.2, 134.2), (955, 80), (1011, L)],
    [(156.8, 206), (164, 202.6), (317, 132), (382, 102), (402, 95), (575.6, 15), (599, 44), (664.6, 130.4), (686.7, 160.5), (699.7, 177.6)],
    [(L, 1509.6), (29, 1522), (45.8, 1535), (104, R)],
]
medium_lines = [
    [(L, 126), (69.5, 108.6), (78, 105.6), (84.8, 105), (156.8, 206), (153, 233.3), (138.4, 352.4), (135, 383.7)],
    [(13, L), (78, 105.6)], [(93.5, L), (84.8, 105)], [(575.6, L), (575.6, 15)], [(699.7, 177.6), (739.4, 167.3)],
    [(360, 483), (538, 444)], [(476, 532), (502, 495)], [(603, 358), (625, 388), (713, 491)], [(687, 240.8), (750, 246.5)],
    [(755.4, 99.6), (826.9, 110.6), (857.3, 101.6), (839.5, L)], [(826.9, 110.6), (865.8, 203.2)], [(857.3, 101.6), (916.2, 134.2)],
    [(753.7, 271.6), (808.9, 281.4)], [(1192, L), (1297.6, 102.9), (1329, 300.3), (1220, 495.2)],
    [(1297.6, 102.9), (1328.5, 84.4), (1420.6, 78.7)], [(1319.5, L), (1328.5, 84.4)], [(1505, 263.7), (R, 258)], [(1497.8, 303.5), (R, 298)],
    [(1489, 344), (1548, 476.8)], [(1329, 300.3), (1482.5, 365.3)], [(1465, 171.3), (1535.6, 101), (1499, L)], [(1535.6, 101), (R, 107)],
    [(1492.5, 232.5), (R, 225)], [(1072, 506), (1061.8, 617)], [(806, 610), (1053, 610)],
    [(1307.3, 1404.4), (1370.5, 1397.6), (1482.5, 1383.6), (R, 1373.8)], [(544, 547), (535.4, 663.8), (489.4, 673.8)],
    [(535.4, 663.8), (588, 707), (707, 802), (772, 847)], [(387.8, 1038.3), (456.6, 1087.2), (447.7, 1107), (424.8, 1160)],
    [(438, 857.3), (449.5, 862.5), (651, 955), (724, 885), (762, 845)], [(651, 955), (651.5, 1012), (589.6, 1108)],
    [(651.5, 1012), (737, 1040.4)], [(446.4, 1115), (540.7, 1241.6)], [(578.4, 1451), (583.6, 1449.7), (594, 1424.7), (633, 1331.7), (680, 1210)],
    [(583.6, 1449.7), (639.4, 1472.8), (669, 1475.7)], [(605.5, 1501.9), (639.4, 1472.8)], [(45.8, 1535), (37.5, R)],
    [(535, 1378), (447, 1508), (415, R)], [(358, 1083), (380.7, 1106.6), (389.9, 1106)], [(181, 408), (55, 505), (L, 543)],
]
heavy_lw, second_lw, medium_lw, thin_lw, hair_lw = 2.4, 1.5, 1.0, 0.6, 0.2

bold = FontProperties(family='DejaVu Sans', weight='bold')
pt_per_unit = 2512 / 1568 * 72 / 200


def size_for(text, width):
    # font size in points that gives the text this width on the 1568 grid
    widest = max(TextPath((0, 0), part, size=100, prop=bold).get_extents().width for part in text.split('\n'))
    return 100 * width * pt_per_unit * 0.97 / widest


fig = plt.figure(figsize=(12.56, 12.56), dpi=200, facecolor='black')
ax = fig.add_axes([0, 0, 1, 1])
ax.set_xlim(0, 1568)
ax.set_ylim(1568, 0)
ax.set_facecolor('black')
ax.axis('off')

for gene in all_genes:
    lw = hair_lw if gene in hair_cells else thin_lw
    ax.add_patch(Polygon(outlines[gene], closed=True, facecolor=colours[gene], edgecolor='black', linewidth=lw, joinstyle='round'))

for lines, lw in ((medium_lines, medium_lw), (second_lines, second_lw), (heavy_lines, heavy_lw)):
    for line in lines:
        ax.plot([p[0] for p in line], [p[1] for p in line], color='black', lw=lw, solid_joinstyle='round', solid_capstyle='round')

shadow = [pe.SimplePatchShadow(offset=(0.35, -0.35), shadow_rgbFace='black', alpha=0.7), pe.Normal()]
for gene in all_genes:
    text = 'H2-\nQ10' if gene == 'H2-Q10' else gene
    cx, cy, width = labels[gene]
    size = size_for(text, width)
    # va='center' leaves the glyphs a little high, push them back down
    ax.text(cx, cy + 0.075 * size / pt_per_unit, text, ha='center', va='center', color='white', fontproperties=bold,
            fontsize=size, linespacing=0.95, path_effects=shadow)

for x0, y0, x1, y1 in ((0, 0, 1568, L), (0, R, 1568, 1568), (0, 0, L, 1568), (R, 0, 1568, 1568)):
    ax.fill([x0, x1, x1, x0], [y0, y0, y1, y1], color='black', zorder=5)

fig.savefig('out.png', dpi=200, facecolor='black')
